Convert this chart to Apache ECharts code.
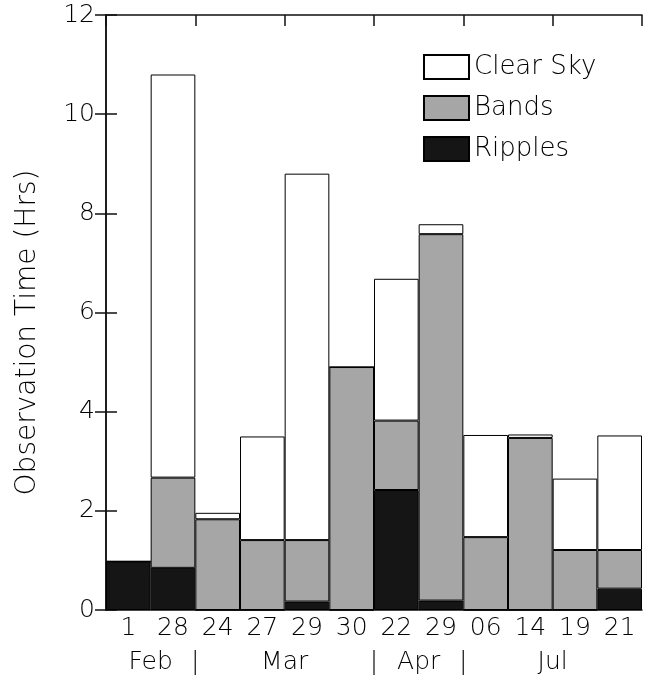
<!DOCTYPE html>
<html>
<head>
<meta charset="utf-8">
<script src="https://cdn.jsdelivr.net/npm/echarts@6/dist/echarts.min.js"></script>
<style>
html,body{margin:0;padding:0;background:#fff;}
#c{width:651px;height:675px;}
</style>
</head>
<body>
<div id="c"></div>
<script>
var categories = ['1','28','24','27','29','30','22','29','06','14','19','21'];
var ripples = [0.98, 0.85, 0, 0, 0.17, 0, 2.42, 0.19, 0, 0, 0, 0.43];
var bands = [0, 1.82, 1.83, 1.41, 1.24, 4.9, 1.40, 7.39, 1.47, 3.47, 1.21, 0.78];
var clearSky = [0, 8.13, 0.13, 2.09, 7.39, 0, 2.86, 0.20, 2.06, 0.07, 1.44, 2.31];
var yTicks = [0, 2, 4, 6, 8, 10, 12];
var monthMarks = {1: 'Feb', 2: '|', 4: 'Mar', 6: '|', 7: 'Apr', 8: '|', 10: 'Jul'};

var FONT = 'DejaVu Sans';
var TXT = '#000';
var chart = echarts.init(document.getElementById('c'), null, {renderer: 'canvas'});
var lineStyle = {color: '#111', width: 1.5};

chart.setOption({
  animation: false,
  backgroundColor: '#fff',
  textStyle: {fontFamily: FONT, fontWeight: 200, color: TXT},
  grid: {left: 106, right: 9, top: 15, bottom: 65, containLabel: false},
  legend: {
    data: ['Clear Sky', 'Bands', 'Ripples'],
    orient: 'vertical',
    left: 418, top: 49,
    itemWidth: 45, itemHeight: 24, itemGap: 15,
    icon: 'rect',
    textStyle: {fontFamily: FONT, fontWeight: 200, fontSize: 26, color: TXT, padding: [0, 0, 0, 0]},
    selectedMode: false
  },
  xAxis: [
    {
      type: 'category', data: categories, position: 'bottom',
      axisLine: {show: true, lineStyle: lineStyle},
      axisTick: {show: false},
      axisLabel: {fontFamily: FONT, fontWeight: 200, fontSize: 25, color: TXT, margin: 6, interval: 0}
    },
    {
      type: 'value', min: 0, max: 12, interval: 1, position: 'bottom', offset: 40,
      axisLine: {show: false}, axisTick: {show: false}, splitLine: {show: false},
      axisLabel: {
        fontFamily: FONT, fontWeight: 200, fontSize: 25, color: TXT, margin: 0,
        showMinLabel: true, showMaxLabel: true,
        formatter: function (v) { return monthMarks[v] || ''; }
      }
    },
    {
      type: 'value', min: 0, max: 12, interval: 2, position: 'top',
      axisLine: {show: true, lineStyle: lineStyle},
      axisTick: {show: true, inside: true, length: 11, lineStyle: lineStyle},
      axisLabel: {show: false}, splitLine: {show: false}
    }
  ],
  yAxis: [
    {
      type: 'value', min: 0, max: 12, interval: 2, position: 'left',
      name: 'Observation Time (Hrs)', nameLocation: 'middle', nameGap: 64,
      nameTextStyle: {fontFamily: FONT, fontWeight: 200, fontSize: 28, color: TXT, padding: [0, 40, 0, 0]},
      axisLine: {show: true, lineStyle: lineStyle},
      axisTick: {show: true, inside: true, length: 11, lineStyle: lineStyle},
      axisLabel: {fontFamily: FONT, fontWeight: 200, fontSize: 25, color: TXT, margin: 11,
        formatter: function (v) { return yTicks.indexOf(v) >= 0 ? String(v) : ''; }},
      splitLine: {show: false}
    },
    {
      type: 'value', min: 0, max: 12, interval: 2, position: 'right',
      axisLine: {show: true, lineStyle: lineStyle},
      axisTick: {show: true, inside: true, length: 11, lineStyle: lineStyle},
      axisLabel: {show: false}, splitLine: {show: false}
    }
  ],
  series: [
    {name: 'Ripples', type: 'bar', stack: 't', data: ripples, barCategoryGap: 0, xAxisIndex: 0, yAxisIndex: 0,
      itemStyle: {color: '#151515', borderColor: '#000', borderWidth: 1}},
    {name: 'Bands', type: 'bar', stack: 't', data: bands, barCategoryGap: 0, xAxisIndex: 0, yAxisIndex: 0,
      itemStyle: {color: '#a6a6a6', borderColor: '#000', borderWidth: 1}},
    {name: 'Clear Sky', type: 'bar', stack: 't', data: clearSky, barCategoryGap: 0, xAxisIndex: 0, yAxisIndex: 0,
      itemStyle: {color: '#fff', borderColor: '#000', borderWidth: 1}}
  ]
});
</script>
</body>
</html>
